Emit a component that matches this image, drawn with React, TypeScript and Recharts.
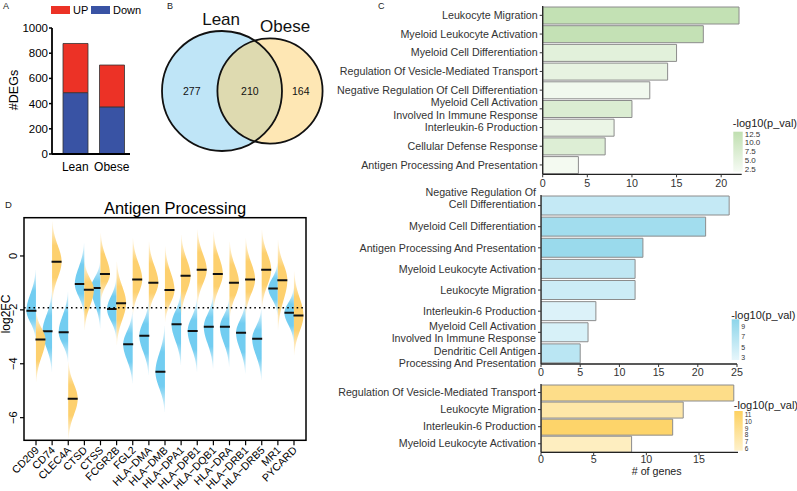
import React from "react";
import {
  Bar,
  BarChart,
  Cell,
  ReferenceLine,
  Scatter,
  ScatterChart,
  XAxis,
  YAxis,
  ZAxis,
} from "recharts";

const FONT = '"Liberation Sans", Arial, Helvetica, sans-serif';

// ---- A: number of DEGs
const degGroups = ["Lean", "Obese"];
const degDown = [487, 374];
const degUp = [390, 332];

// ---- B: Venn of down-regulated genes
const vennSets = ["Lean", "Obese"];
const vennTotals = [487, 374];
const vennCounts = [277, 210, 164]; // lean only, shared, obese only

// ---- C: enrichment bars
const greenTerms = [
  "Leukocyte Migration",
  "Myeloid Leukocyte Activation",
  "Myeloid Cell Differentiation",
  "Regulation Of Vesicle-Mediated Transport",
  "Negative Regulation Of Cell Differentiation",
  "Myeloid Cell Activation\nInvolved In Immune Response",
  "Interleukin-6 Production",
  "Cellular Defense Response",
  "Antigen Processing And Presentation",
];
const greenGenes = [22, 18, 15, 14, 12, 10, 8, 7, 4];
const greenLogP = [12.4, 12.2, 6.0, 5.0, 2.8, 7.5, 4.2, 7.0, 2.3];

const blueTerms = [
  "Negative Regulation Of\nCell Differentiation",
  "Myeloid Cell Differentiation",
  "Antigen Processing And Presentation",
  "Myeloid Leukocyte Activation",
  "Leukocyte Migration",
  "Interleukin-6 Production",
  "Myeloid Cell Activation\nInvolved In Immune Response",
  "Dendritic Cell Antigen\nProcessing And Presentation",
];
const blueGenes = [24, 21, 13, 12, 12, 7, 6, 5];
const blueLogP = [5.5, 8.6, 9.3, 6.0, 4.8, 3.4, 3.8, 6.4];

const yellowTerms = [
  "Regulation Of Vesicle-Mediated Transport",
  "Leukocyte Migration",
  "Interleukin-6 Production",
  "Myeloid Leukocyte Activation",
];
const yellowGenes = [18.3, 13.5, 12.5, 8.6];
const yellowLogP = [9.3, 7.6, 11.0, 6.3];

// ---- D: antigen processing split violins
const apGenes = [
  "CD209", "CD74", "CLEC4A", "CTSD", "CTSS", "FCGR2B", "FGL2", "HLA\u2212DMA", "HLA\u2212DMB",
  "HLA\u2212DPA1", "HLA\u2212DPB1", "HLA\u2212DQB1", "HLA\u2212DRA", "HLA\u2212DRB1", "HLA\u2212DRB5", "MR1", "PYCARD",
];
const leanMed = [-2.03, -2.79, -2.83, -1.04, -1.19, -1.97, -3.28, -2.96, -4.3, -2.53, -2.78, -2.63, -2.63, -2.85, -3.07, -1.21, -2.11];
const leanHi = [-0.52, -1.33, -1.33, 0.47, -0.21, -0.83, -2.07, -1.7, -2.6, -1.33, -1.57, -1.45, -1.57, -1.7, -1.95, -0.27, -1.2];
const leanLo = [-3.1, -4.3, -3.93, -2.19, -2.69, -3.06, -4.73, -4.42, -5.79, -4.05, -4.3, -4.18, -4.11, -4.36, -4.61, -2.19, -3.19];
const obeseMed = [-3.1, -0.21, -5.3, -1.25, -0.67, -1.75, -0.87, -0.99, -1.26, -0.73, -0.51, -0.67, -0.99, -0.87, -0.51, -0.9, -2.21];
const obeseHi = [-2.07, 1.28, -3.93, -0.21, 0.84, -0.21, 0.66, 0.53, 0.35, 0.78, 0.97, 0.9, 0.53, 0.66, 0.97, 0.59, -0.58];
const obeseLo = [-4.67, -1.7, -6.78, -2.75, -1.7, -3.3, -2.19, -2.19, -2.44, -2.19, -1.82, -2.0, -2.32, -2.19, -1.95, -2.75, -3.68];
const refLevel = -1.92;

const UP = "#ec3226";
const DOWN = "#3953a4";

type Ramp = { lo: string; hi: string; vmin: number; vmax: number };
const greenRamp: Ramp = { lo: "#f6fbf4", hi: "#c0dfb0", vmin: 1.8, vmax: 13.1 };
const blueRamp: Ramp = { lo: "#e6f6fb", hi: "#8dd5ea", vmin: 2.47, vmax: 10.45 };
const yellowRamp: Ramp = { lo: "#fef1cb", hi: "#fdd160", vmin: 5.7, vmax: 11.54 };

function hexRgb(h: string) {
  return [1, 3, 5].map((i) => parseInt(h.slice(i, i + 2), 16));
}
function rampColor(r: Ramp, v: number) {
  const t = Math.max(0, Math.min(1, (v - r.vmin) / (r.vmax - r.vmin)));
  const a = hexRgb(r.lo);
  const b = hexRgb(r.hi);
  const c = a.map((x, i) => Math.round(x + (b[i] - x) * t));
  return `rgb(${c.join(",")})`;
}

// ---------- A
function DegPanel() {
  const data = degGroups.map((g, i) => ({ group: g, down: degDown[i], up: degUp[i] }));
  return (
    <div style={{ position: "absolute", left: 0, top: 0 }}>
      <BarChart width={135} height={175} data={data} margin={{ top: 28, right: 5, bottom: 0, left: 0 }}>
        <XAxis
          dataKey="group"
          height={21}
          padding={{ left: 5, right: 0 }}
          tickLine={false}
          axisLine={{ stroke: "#000", strokeWidth: 1.8 }}
          tick={{ fill: "#000", fontSize: 12 }}
        />
        <YAxis
          width={52}
          domain={[0, 1000]}
          ticks={[0, 200, 400, 600, 800, 1000]}
          tickSize={3}
          tickMargin={1}
          axisLine={{ stroke: "#000", strokeWidth: 1.8 }}
          tickLine={{ stroke: "#000", strokeWidth: 1.5 }}
          tick={{ fill: "#000", fontSize: 11.5 }}
        />
        <Bar dataKey="down" stackId="a" fill={DOWN} stroke="#333" strokeWidth={0.8} barSize={25} isAnimationActive={false} />
        <Bar dataKey="up" stackId="a" fill={UP} stroke="#333" strokeWidth={0.8} barSize={25} isAnimationActive={false} />
      </BarChart>
    </div>
  );
}

// ---------- B
function VennFill(p: any) {
  const r = p.width ? p.width / 2 : Math.sqrt((p.size || 0) / Math.PI);
  const fill = p.payload.name === "Lean" ? "#7fcbef" : "#fdcf69";
  return <circle cx={p.cx} cy={p.cy} r={r} fill={fill} fillOpacity={0.5} />;
}
function VennOutline(p: any) {
  const r = p.width ? p.width / 2 : Math.sqrt((p.size || 0) / Math.PI);
  const isLean = p.payload.name === "Lean";
  return (
    <g>
      <circle cx={p.cx} cy={p.cy} r={r} fill="none" stroke="#111" strokeWidth={1.8} />
      <text
        x={isLean ? p.cx + 18 : p.cx - 10}
        y={p.cy - r - 6}
        textAnchor={isLean ? "end" : "start"}
        fontSize={17}
        fill="#111"
      >
        {p.payload.name}
      </text>
    </g>
  );
}
function VennCount(p: any) {
  return (
    <text x={p.cx} y={p.cy} dy="0.35em" textAnchor="middle" fontSize={10.5} fill="#111">
      {p.payload.count}
    </text>
  );
}
function VennPanel() {
  const circles = vennSets.map((s, i) => ({ name: s, x: i, y: 0, total: vennTotals[i] }));
  const regionX = [-0.63, 0.58, 1.64];
  const counts = vennCounts.map((c, i) => ({ count: c, x: regionX[i], y: 0 }));
  return (
    <div style={{ position: "absolute", left: 126, top: 0 }}>
      <ScatterChart width={240} height={182} margin={{ top: 0, right: 0, bottom: 0, left: 0 }}>
        <XAxis type="number" dataKey="x" domain={[-2, 3]} hide />
        <YAxis type="number" dataKey="y" domain={[-1, 1]} hide />
        <ZAxis type="number" dataKey="total" domain={[0, Math.max(...vennTotals)]} range={[0, Math.PI * 3600]} />
        <Scatter data={circles} shape={VennFill} isAnimationActive={false} />
        <Scatter data={circles} shape={VennOutline} isAnimationActive={false} />
        <Scatter data={counts} shape={VennCount} isAnimationActive={false} />
      </ScatterChart>
    </div>
  );
}

// ---------- C
function TermTick(p: any) {
  const lines = String(p.payload.value).split("\n");
  const lh = 12.3;
  const shift = (p.shifts && p.shifts[p.index]) || 0;
  return (
    <text x={p.x} y={p.y + shift} textAnchor="end" fontSize={10.7} fill="#333">
      {lines.map((l, i) => (
        <tspan key={i} x={p.x} dy={i === 0 ? -((lines.length - 1) * lh) / 2 + 3.7 : lh}>
          {l}
        </tspan>
      ))}
    </text>
  );
}

function TermChart(props: {
  terms: string[];
  genes: number[];
  logp: number[];
  ramp: Ramp;
  top: number;
  height: number;
  marginTop: number;
  marginRight: number;
  axisWidth: number;
  xHeight: number;
  tickMargin: number;
  domain: [number, number];
  ticks: number[];
  barSize: number;
  labelShifts?: Record<number, number>;
}) {
  const data = props.terms.map((t, i) => ({ term: t, genes: props.genes[i], logp: props.logp[i] }));
  return (
    <div style={{ position: "absolute", left: 330, top: props.top }}>
      <BarChart
        layout="vertical"
        width={415}
        height={props.height}
        data={data}
        margin={{ top: props.marginTop, right: props.marginRight, bottom: 0, left: 0 }}
      >
        <XAxis
          type="number"
          domain={props.domain}
          ticks={props.ticks}
          allowDataOverflow
          height={props.xHeight}
          tickSize={3}
          tickMargin={props.tickMargin}
          axisLine={{ stroke: "#222", strokeWidth: 1.3 }}
          tickLine={{ stroke: "#333" }}
          tick={{ fill: "#333", fontSize: 10.7 }}
        />
        <YAxis
          type="category"
          dataKey="term"
          width={props.axisWidth}
          interval={0}
          tickSize={3}
          tickMargin={2}
          axisLine={{ stroke: "#222", strokeWidth: 1.3 }}
          tickLine={{ stroke: "#333" }}
          tick={<TermTick shifts={props.labelShifts} />}
        />
        <Bar dataKey="genes" barSize={props.barSize} stroke="#8c8c8c" strokeWidth={1} isAnimationActive={false}>
          {data.map((d, i) => (
            <Cell key={i} fill={rampColor(props.ramp, d.logp)} />
          ))}
        </Bar>
      </BarChart>
    </div>
  );
}

// ---------- D
function HalfViolin(p: any) {
  const left = p.side === "left";
  const d = p.payload;
  const lo = left ? d.leanLo : d.obeseLo;
  const hi = left ? d.leanHi : d.obeseHi;
  const med = left ? d.leanMed : d.obeseMed;
  const top = Math.min(p.y, p.y + p.height);
  const bottom = Math.max(p.y, p.y + p.height);
  const medPx = top + ((hi - med) / (hi - lo)) * (bottom - top);
  const cx = left ? p.x + p.width : p.x;
  const dir = left ? -1 : 1;
  const W = 9.5;
  const sUp = Math.max((medPx - top) / 2.5, 0.5);
  const sDn = Math.max((bottom - medPx) / 2.5, 0.5);
  let path = `M${cx},${top}`;
  const steps = 60;
  for (let k = 0; k <= steps; k++) {
    const yy = top + (k / steps) * (bottom - top);
    const s = yy < medPx ? sUp : sDn;
    const w = W * Math.exp(-0.5 * ((yy - medPx) / s) ** 2);
    path += ` L${(cx + dir * w).toFixed(2)},${yy.toFixed(2)}`;
  }
  path += ` L${cx},${bottom} Z`;
  return (
    <g>
      <path d={path} fill={`url(#${left ? "vLean" : "vObese"})`} />
      <line
        x1={left ? cx - 9.5 : cx - 0.5}
        x2={left ? cx + 0.5 : cx + 9.5}
        y1={medPx}
        y2={medPx}
        stroke="#111"
        strokeWidth={2}
      />
    </g>
  );
}

function GeneTick(p: any) {
  const x = p.x + 1;
  const y = p.y + 1;
  return (
    <text x={x} y={y} dy="0.35em" textAnchor="end" fontSize={10.6} fill="#000" transform={`rotate(-45, ${x}, ${y})`}>
      {p.payload.value}
    </text>
  );
}
function RotTick(p: any) {
  const x = p.x - 1;
  return (
    <text x={x} y={p.y} textAnchor="middle" fontSize={11} fill="#000" transform={`rotate(-90, ${x}, ${p.y})`}>
      {p.payload.value === 0 ? "0" : `\u2212${Math.abs(p.payload.value)}`}
    </text>
  );
}

function ViolinPanel() {
  const data = apGenes.map((g, i) => ({
    gene: g,
    leanMed: leanMed[i],
    leanHi: leanHi[i],
    leanLo: leanLo[i],
    obeseMed: obeseMed[i],
    obeseHi: obeseHi[i],
    obeseLo: obeseLo[i],
  }));
  const domain: [number, number] = [-6.84, 1.42];
  return (
    <div style={{ position: "absolute", left: 0, top: 200 }}>
      <BarChart
        width={320}
        height={291}
        data={data}
        margin={{ top: 17.7, right: 14, bottom: 0, left: 0 }}
        barCategoryGap={0}
        barGap={0}
      >
        <defs>
          <linearGradient id="vLean" x1="0" y1="0" x2="0" y2="1">
            <stop offset="0" stopColor="#72cdf1" stopOpacity={0.1} />
            <stop offset="0.3" stopColor="#72cdf1" stopOpacity={1} />
            <stop offset="0.7" stopColor="#72cdf1" stopOpacity={1} />
            <stop offset="1" stopColor="#72cdf1" stopOpacity={0.1} />
          </linearGradient>
          <linearGradient id="vObese" x1="0" y1="0" x2="0" y2="1">
            <stop offset="0" stopColor="#fdd06e" stopOpacity={0.1} />
            <stop offset="0.3" stopColor="#fdd06e" stopOpacity={1} />
            <stop offset="0.7" stopColor="#fdd06e" stopOpacity={1} />
            <stop offset="1" stopColor="#fdd06e" stopOpacity={0.1} />
          </linearGradient>
        </defs>
        <XAxis
          dataKey="gene"
          interval={0}
          padding={{ left: 3.94, right: 3.94 }}
          height={50.7}
          tickSize={5}
          axisLine={false}
          tickLine={{ stroke: "#000", strokeWidth: 1.2 }}
          tick={<GeneTick />}
        />
        <YAxis
          domain={domain}
          allowDataOverflow
          ticks={[0, -2, -4, -6]}
          width={24}
          tickSize={4}
          tickMargin={2}
          axisLine={false}
          tickLine={{ stroke: "#000", strokeWidth: 1.2 }}
          tick={<RotTick />}
        />
        <ReferenceLine y={refLevel} stroke="#000" strokeWidth={1.6} strokeDasharray="1.6 3.1" />
        <Bar
          dataKey={(d: any) => [d.leanLo, d.leanHi]}
          shape={(p: any) => <HalfViolin {...p} side="left" />}
          isAnimationActive={false}
        />
        <Bar
          dataKey={(d: any) => [d.obeseLo, d.obeseHi]}
          shape={(p: any) => <HalfViolin {...p} side="right" />}
          isAnimationActive={false}
        />
      </BarChart>
    </div>
  );
}

// ---------- overlay annotations
function ColorBar(props: {
  id: string;
  ramp: Ramp;
  x: number;
  y: number;
  w: number;
  h: number;
  labels: number[];
  digits: number;
  fontSize: number;
  titleY: number;
}) {
  const { ramp, x, y, w, h } = props;
  return (
    <g>
      <defs>
        <linearGradient id={props.id} x1="0" y1="0" x2="0" y2="1">
          <stop offset="0" stopColor={ramp.hi} />
          <stop offset="1" stopColor={ramp.lo} />
        </linearGradient>
      </defs>
      <text x={x - 0.5} y={props.titleY} fontSize={11} fill="#222">
        -log10(p_val)
      </text>
      <rect x={x} y={y} width={w} height={h} fill={`url(#${props.id})`} />
      {props.labels.map((v) => (
        <text
          key={v}
          x={x + w + 2}
          y={y + ((ramp.vmax - v) / (ramp.vmax - ramp.vmin)) * h}
          dy="0.35em"
          fontSize={props.fontSize}
          fill="#333"
        >
          {v.toFixed(props.digits)}
        </text>
      ))}
    </g>
  );
}

function Overlay() {
  return (
    <svg
      width={797}
      height={491}
      style={{ position: "absolute", left: 0, top: 0, pointerEvents: "none" }}
      fontFamily={FONT}
    >
      <text x={3} y={9} fontSize={9} fill="#222">A</text>
      <text x={167} y={9} fontSize={9} fill="#222">B</text>
      <text x={378} y={9} fontSize={9} fill="#222">C</text>
      <text x={5} y={208} fontSize={9.5} fill="#222">D</text>

      <rect x={51} y={6} width={19} height={8} fill={UP} />
      <text x={73} y={13.8} fontSize={11} fill="#000">UP</text>
      <rect x={91} y={6} width={19} height={8} fill={DOWN} />
      <text x={113} y={13.8} fontSize={11} fill="#000">Down</text>
      <text x={18} y={90} fontSize={12.5} textAnchor="middle" fill="#000" transform="rotate(-90, 18, 90)">
        #DEGs
      </text>

      {/* frame of panel D */}
      <rect x={24} y={217.7} width={282} height={222.6} fill="none" stroke="#000" strokeWidth={1.5} />
      <text x={175} y={213.5} fontSize={16.5} textAnchor="middle" fill="#000">Antigen Processing</text>
      <text x={10} y={314} fontSize={12} textAnchor="middle" fill="#000" transform="rotate(-90, 10, 314)">
        log2FC
      </text>

      <ColorBar id="cb1" ramp={greenRamp} x={733.3} y={131.7} w={9.4} h={40} labels={[12.5, 10, 7.5, 5, 2.5]} digits={1} fontSize={8} titleY={127} />
      <ColorBar id="cb2" ramp={blueRamp} x={731.7} y={319.3} w={7.6} h={40.7} labels={[9, 7, 5, 3]} digits={0} fontSize={7} titleY={318.5} />
      <ColorBar id="cb3" ramp={yellowRamp} x={734.3} y={411} w={8.4} h={39.7} labels={[11, 10, 9, 8, 7, 6]} digits={0} fontSize={6.5} titleY={409} />

      <text x={656.7} y={474.8} fontSize={10.7} textAnchor="middle" fill="#222"># of genes</text>
    </svg>
  );
}

export default function App() {
  return (
    <div
      style={{
        position: "absolute",
        left: 0,
        top: 0,
        width: 797,
        height: 491,
        background: "#fff",
        fontFamily: FONT,
        overflow: "hidden",
      }}
    >
      <DegPanel />
      <VennPanel />
      <TermChart
        terms={greenTerms}
        genes={greenGenes}
        logp={greenLogP}
        ramp={greenRamp}
        top={0}
        height={192}
        marginTop={6}
        marginRight={3.3}
        axisWidth={212.7}
        xHeight={17.7}
        tickMargin={2}
        domain={[0, 22.3]}
        ticks={[0, 5, 10, 15, 20]}
        barSize={17}
      />
      <TermChart
        terms={blueTerms}
        genes={blueGenes}
        logp={blueLogP}
        ramp={blueRamp}
        top={185}
        height={195}
        marginTop={10}
        marginRight={8}
        axisWidth={211}
        xHeight={16}
        tickMargin={1}
        domain={[0, 25]}
        ticks={[0, 5, 10, 15, 20, 25]}
        barSize={19}
        labelShifts={{ 0: -7, 7: 4 }}
      />
      <TermChart
        terms={yellowTerms}
        genes={yellowGenes}
        logp={yellowLogP}
        ramp={yellowRamp}
        top={378}
        height={96}
        marginTop={6}
        marginRight={7}
        axisWidth={211}
        xHeight={21.7}
        tickMargin={0.5}
        domain={[0, 18.7]}
        ticks={[0, 5, 10, 15]}
        barSize={16}
      />
      <ViolinPanel />
      <Overlay />
    </div>
  );
}
